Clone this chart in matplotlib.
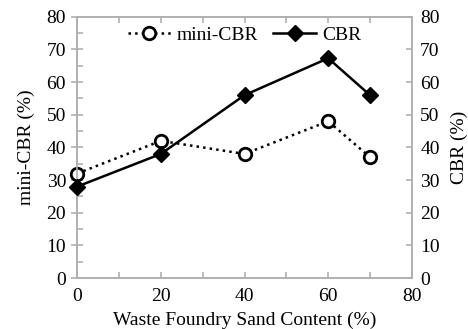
import matplotlib
matplotlib.use('Agg')
import matplotlib.pyplot as plt
from matplotlib.ticker import MultipleLocator

plt.rcParams['font.family'] = ['Liberation Serif', 'DejaVu Serif']
plt.rcParams['font.size'] = 14

sand = [0, 20, 40, 60, 70]
mini_cbr = [32, 42, 38, 48, 37]
cbr = [28, 38, 56, 67.3, 56]

fig = plt.figure(figsize=(4.68, 3.29), dpi=100)
ax = fig.add_axes([0.165, 0.155, 0.715, 0.794])
ax2 = ax.twinx()

l1, = ax.plot(sand, mini_cbr, linestyle=':', color='black', lw=1.8,
              marker='o', mfc='white', mec='black', mew=2.0, ms=9,
              label='mini-CBR', clip_on=False, zorder=3)
l2, = ax2.plot(sand, cbr, linestyle='-', color='black', lw=1.8,
               marker='D', mfc='black', mec='black', ms=8, label='CBR',
               clip_on=False, zorder=3)

gray = '#b0b0b0'
for a in (ax, ax2):
    a.set_ylim(0, 80)
    a.yaxis.set_major_locator(MultipleLocator(10))
    for s in a.spines.values():
        s.set_color(gray)
        s.set_linewidth(1.2)
ax.yaxis.set_minor_locator(MultipleLocator(5))
ax.set_xlim(0, 80)
ax.xaxis.set_major_locator(MultipleLocator(20))
ax.xaxis.set_minor_locator(MultipleLocator(10))
ax.tick_params(axis='y', which='major', direction='inout', length=8,
               color=gray, width=1.2, pad=4)
ax.tick_params(axis='y', which='minor', direction='in', length=4,
               color=gray, width=1.2)
ax.tick_params(axis='x', which='both', direction='in', length=4,
               color=gray, width=1.2, top=True, pad=7)
ax2.tick_params(axis='y', which='major', direction='in', length=4,
                color=gray, width=1.2, pad=6)

ax.set_xlabel('Waste Foundry Sand Content (%)', labelpad=5)
ax.set_ylabel('mini-CBR (%)', labelpad=8)
ax2.set_ylabel('CBR (%)', labelpad=8)

ax.legend(handles=[l1, l2], loc='upper center', ncol=2, frameon=False,
          bbox_to_anchor=(0.5, 1.03), handlelength=2.2, columnspacing=0.8,
          handletextpad=0.3)

fig.savefig('out.png', dpi=100)
